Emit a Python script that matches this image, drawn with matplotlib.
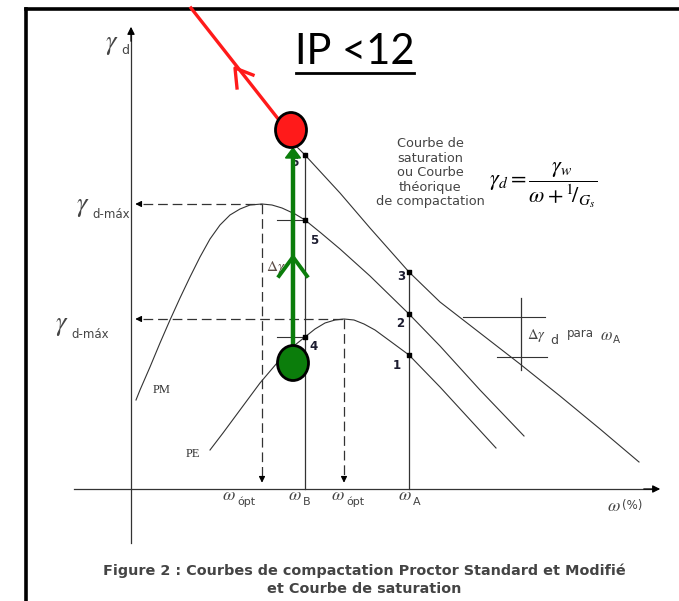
import matplotlib
matplotlib.use("Agg")
import matplotlib.pyplot as plt
from matplotlib.patches import Ellipse, Polygon

plt.rcParams['lines.scale_dashes'] = False
plt.rcParams['mathtext.fontset'] = 'stix'

# ---- data (water content w in %, dry unit weight gamma_d, schematic units) ----
pm_w = [0.5, 0.9, 1.9, 2.9, 3.9, 4.9, 5.9, 6.9, 7.9, 8.9, 9.9, 10.9, 11.9, 13.1,
        14.1, 15.1, 16.4, 17.4, 19.0, 20.9, 23.9, 27.8, 30.9, 34.9, 39.3]
pm_g = [8.9, 9.9, 12.2, 14.6, 16.9, 19.1, 21.2, 23.2, 25.0, 26.4, 27.4, 28.0, 28.4, 28.5,
        28.4, 28.1, 27.5, 26.9, 25.6, 24.0, 21.3, 17.5, 14.3, 9.9, 5.3]

pe_w = [7.9, 9.2, 10.9, 12.9, 14.6, 15.9, 17.4, 18.4, 19.4, 20.4, 21.3, 22.3, 23.3,
        24.4, 25.9, 27.8, 30.9, 36.5]
pe_g = [3.9, 5.6, 7.9, 10.6, 12.6, 14.0, 15.2, 16.0, 16.6, 16.9, 17.0, 16.9, 16.5,
        15.9, 14.8, 13.4, 10.2, 4.1]

sat_w = [16.6, 17.4, 20.9, 23.9, 27.8, 30.9, 34.9, 38.9, 42.9, 46.9, 50.8]
sat_g = [34.2, 33.4, 29.6, 26.1, 21.7, 18.7, 15.6, 12.5, 9.3, 6.0, 2.7]

w_opt_pm, g_max_pm = 13.1, 28.5
w_opt_pe, g_max_pe = 21.3, 17.0
w_B, w_A = 17.4, 27.8

pt_labels = ['1', '2', '3', '4', '5', '6']
pt_w = [w_A, w_A, w_A, w_B, w_B, w_B]
pt_g = [13.4, 17.5, 21.7, 15.2, 26.9, 33.4]

green_pt = (16.2, 12.6)
red_pt = (16.0, 35.9)

INK = '#333333'
TXT = '#444444'
GREEN = '#0b7d0b'
RED = '#ff1a1a'

fig = plt.figure(figsize=(6.79, 6.01), dpi=100)
ax = fig.add_axes([0, 0, 1, 1])
ax.set_xlim(-13.1, 54.8)
ax.set_ylim(-11.2, 48.9)
ax.axis('off')

# frame
ax.plot([-10.45, 54.8], [48.0, 48.0], color='black', lw=2.6, solid_capstyle='projecting')
ax.plot([-10.45, -10.45], [-11.2, 48.0], color='black', lw=2.6, solid_capstyle='projecting')

# axes with arrows
ax.plot([0, 0], [-5.4, 45.5], color=INK, lw=0.9)
ax.annotate('', xy=(0, 46.5), xytext=(0, 44.5),
            arrowprops=dict(arrowstyle='-|>', color='black', lw=0.9, mutation_scale=11))
ax.plot([-5.7, 52.0], [0, 0], color=INK, lw=0.9)
ax.annotate('', xy=(53.2, 0), xytext=(51.0, 0),
            arrowprops=dict(arrowstyle='-|>', color='black', lw=0.9, mutation_scale=11))

# compaction and saturation curves
ax.plot(pm_w, pm_g, color=INK, lw=0.8, solid_joinstyle='round')
ax.plot(pe_w, pe_g, color=INK, lw=0.8, solid_joinstyle='round')
ax.plot(sat_w, sat_g, color=INK, lw=0.8, solid_joinstyle='round')

# optimum dashed guides
for wo, gm in [(w_opt_pm, g_max_pm), (w_opt_pe, g_max_pe)]:
    ax.plot([1.2, wo], [gm, gm], color=INK, lw=0.9, dashes=(7, 3.5))
    ax.plot([wo, wo], [gm, 1.2], color=INK, lw=0.9, dashes=(7, 3.5))
    ax.annotate('', xy=(0.15, gm), xytext=(1.3, gm),
                arrowprops=dict(arrowstyle='-|>', color='black', lw=0.8, mutation_scale=9))
    ax.annotate('', xy=(wo, 0.35), xytext=(wo, 1.5),
                arrowprops=dict(arrowstyle='-|>', color='black', lw=0.8, mutation_scale=9))

# verticals at wB and wA
ax.plot([w_B, w_B], [0, 33.6], color=INK, lw=0.9)
ax.plot([w_A, w_A], [0, 21.7], color=INK, lw=0.9)
ax.scatter(pt_w, pt_g, marker='s', s=7, color='black', zorder=4)

num_off = {'1': (-1.2, -1.1), '2': (-0.9, -1.0), '3': (-0.8, -0.5),
           '4': (0.9, -1.0), '5': (0.9, -2.1), '6': (-1.1, -0.7)}
for lab, w, g in zip(pt_labels, pt_w, pt_g):
    dx, dy = num_off[lab]
    ax.text(w + dx, g + dy, lab, fontsize=8.5, fontweight='bold', color='#1c1c30',
            ha='center', va='center', zorder=3)

# delta gamma bracket at wB
ax.plot([14.6, w_B], [26.9, 26.9], color=INK, lw=0.8)
ax.plot([14.6, w_B], [15.2, 15.2], color=INK, lw=0.8)
ax.plot([16.0, 16.0], [15.2, 26.9], color=INK, lw=0.8)
ax.text(14.5, 22.1, r'$\Delta\gamma$', fontsize=11, color='#5a4a44', ha='center', va='center', zorder=3)

# delta gamma bracket at wA
ax.plot([33.2, 41.4], [17.2, 17.2], color=INK, lw=0.8)
ax.plot([36.6, 41.6], [13.2, 13.2], color=INK, lw=0.8)
ax.plot([39.0, 39.0], [11.9, 19.1], color=INK, lw=0.9)
ax.text(39.6, 15.3, r'$\Delta\gamma$', fontsize=10.5, color=TXT, ha='left', va='center')
ax.text(41.9, 14.8, 'd', fontsize=9, color=TXT, ha='left', va='center')
ax.text(43.6, 15.5, 'para', fontsize=8.5, color=TXT, ha='left', va='center')
ax.text(46.9, 15.4, r'$\omega$', fontsize=12, color=TXT, ha='left', va='center')
ax.text(48.2, 14.9, 'A', fontsize=7.5, color=TXT, ha='left', va='center')

# axis labels
ax.text(-1.9, 44.5, r'$\gamma$', fontsize=19, color=TXT, ha='center', va='center')
ax.text(-0.95, 43.8, 'd', fontsize=9, color=TXT, ha='left', va='center')
for gx, gy in [(-4.8, 28.3), (-6.9, 16.4)]:
    ax.text(gx, gy, r'$\gamma$', fontsize=19, color=TXT, ha='center', va='center')
    ax.text(gx + 0.9, gy - 0.9, 'd-máx', fontsize=8.5, color=TXT, ha='left', va='center')

for x0, sub in [(9.8, 'ópt'), (16.4, 'B'), (20.7, 'ópt'), (27.4, 'A')]:
    ax.text(x0, -0.6, r'$\omega$', fontsize=13, color=TXT, ha='center', va='center')
    ax.text(x0 + 0.8, -1.3, sub, fontsize=8, color=TXT, ha='left', va='center')
ax.text(48.3, -1.7, r'$\omega$', fontsize=13, color=TXT, ha='center', va='center')
ax.text(49.1, -1.7, '(%)', fontsize=8.5, color=TXT, ha='left', va='center')

ax.text(3.1, 9.9, 'PM', fontsize=9, family='Liberation Serif', color=INK, ha='center', va='center')
ax.text(6.2, 3.5, 'PE', fontsize=9, family='Liberation Serif', color=INK, ha='center', va='center')

# saturation curve note and formula
ax.text(29.9, 31.6, 'Courbe de\nsaturation\nou Courbe\nthéorique\nde compactation',
        fontsize=9.3, color=TXT, ha='center', va='center', linespacing=1.15)
ax.text(35.8, 30.4, r'$\gamma_d = \dfrac{\gamma_w}{\omega + {}^{1}\!/_{G_s}}$',
        fontsize=16, color='black', ha='left', va='center')

# title
ax.text(22.4, 43.7, 'IP <12', fontsize=30, family='Lato', color='black', ha='center', va='center')
ax.plot([16.5, 28.3], [41.6, 41.6], color='black', lw=2.0)

# caption
ax.text(23.3, -9.1, 'Figure 2 : Courbes de compactation Proctor Standard et Modifié\net Courbe de saturation',
        fontsize=10.4, fontweight='bold', color=TXT, ha='center', va='center', linespacing=1.4)

# green path: wB state raised up to saturation
ax.plot([green_pt[0], green_pt[0]], [green_pt[1] + 1.5, 33.3], color=GREEN, lw=3.2, zorder=5)
ax.add_patch(Polygon([(16.2, 34.1), (15.45, 33.1), (16.95, 33.1)], closed=True,
                     color=GREEN, zorder=6))
ax.plot([14.8, 16.2, 17.6], [21.3, 23.2, 21.3], color=GREEN, lw=2.8, zorder=5)
ax.add_patch(Ellipse(green_pt, 3.1, 3.5, facecolor=GREEN, edgecolor='black', lw=2.0, zorder=7))

# red path
ax.plot([14.8, 6.0], [36.9, 48.1], color=RED, lw=2.4, zorder=5)
ax.plot([12.2, 10.4, 10.6], [41.4, 42.1, 40.1], color=RED, lw=2.4, zorder=5)
ax.add_patch(Ellipse(red_pt, 3.1, 3.5, facecolor=RED, edgecolor='black', lw=2.0, zorder=7))

fig.savefig('out.png', dpi=100)
